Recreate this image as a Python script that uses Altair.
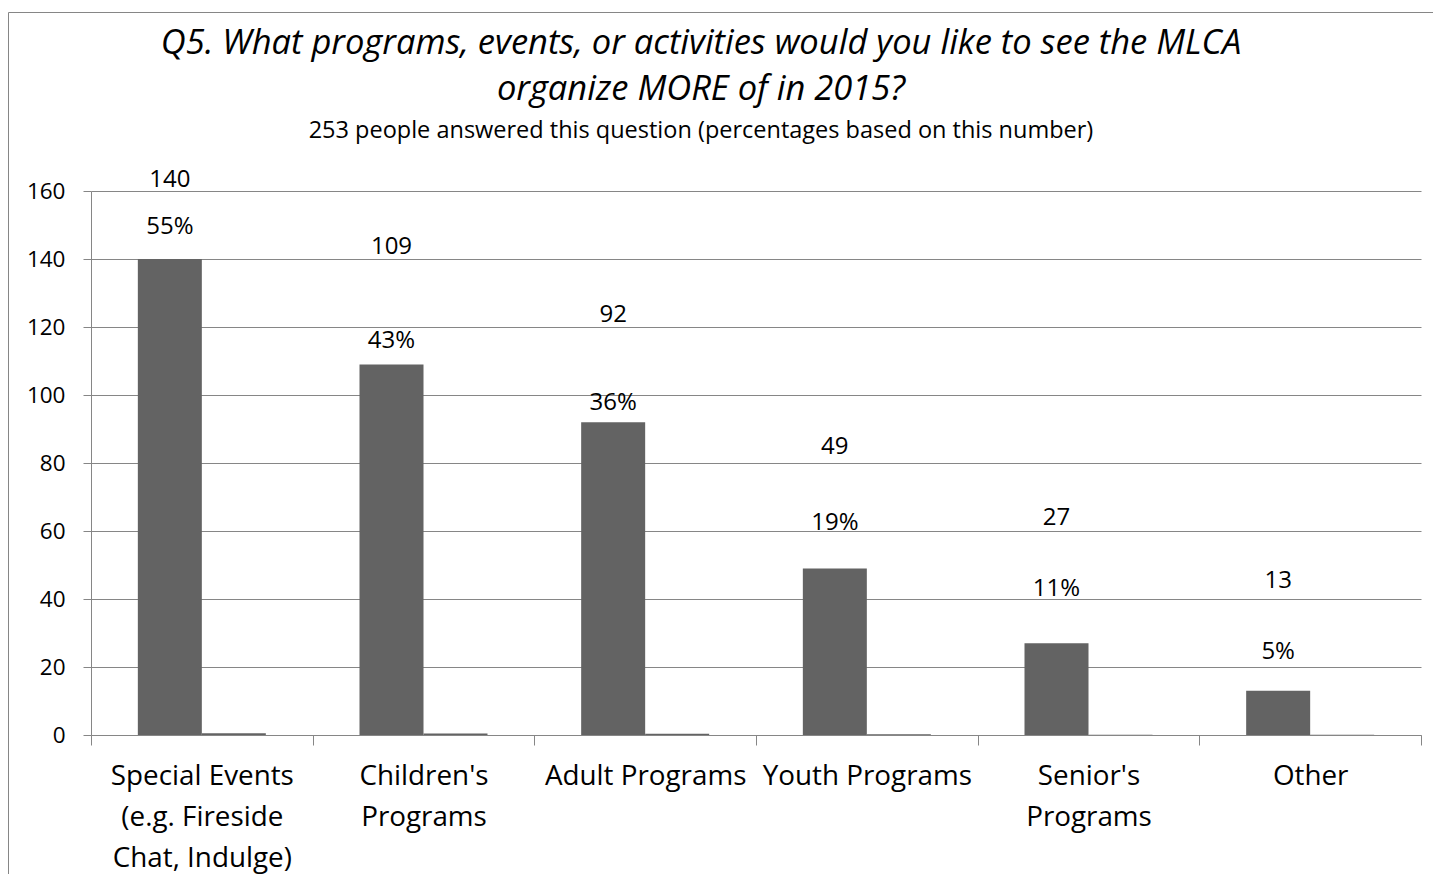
import altair as alt
import pandas as pd

# ---- data ----
categories = [
    "Special Events\n(e.g. Fireside\nChat, Indulge)",
    "Children's\nPrograms",
    "Adult Programs",
    "Youth Programs",
    "Senior's\nPrograms",
    "Other",
]
counts = [140, 109, 92, 49, 27, 13]
# percentage series, plotted on the count axis in the source (hence tiny bars)
percents = [0.55, 0.43, 0.36, 0.19, 0.11, 0.05]
percent_labels = ["55%", "43%", "36%", "19%", "11%", "5%"]
# heights (in axis units) at which the data labels sit in the reference
count_label_height = [163.1, 143.5, 123.5, 84.7, 63.8, 45.3]
percent_label_height = [149.4, 115.9, 97.6, 62.4, 42.8, 24.3]
y_ticks = [0, 20, 40, 60, 80, 100, 120, 140, 160]

title_lines = [
    "Q5. What programs, events, or activities would you like to see the MLCA",
    "organize MORE of in 2015?",
]
subtitle = "253 people answered this question (percentages based on this number)"

FONT = "Open Sans"
GRID = "#868686"
BAR = "#636363"

bars_df = pd.DataFrame(
    {
        "category": categories * 2,
        "series": ["count"] * len(categories) + ["pct"] * len(categories),
        "value": counts + percents,
    }
)
labels_df = pd.DataFrame(
    {
        "category": categories,
        "series": ["count"] * len(categories),
        "count_text": [str(c) for c in counts],
        "pct_text": percent_labels,
        "count_h": count_label_height,
        "pct_h": percent_label_height,
    }
)

x_scale = alt.Scale(paddingInner=0, paddingOuter=0)
xo_scale = alt.Scale(domain=["count", "pct"], paddingInner=0, paddingOuter=0.7318)
y_scale = alt.Scale(domain=[0, 160], nice=False)

x_axis = alt.Axis(
    title=None,
    labelAngle=0,
    labelExpr="split(datum.label, '\\n')",
    labelFont=FONT,
    labelFontSize=27.8,
    labelLineHeight=41,
    labelPadding=17,
    labelColor="black",
    labelBaseline="top",
    tickSize=10,
    tickBand="extent",
    tickColor=GRID,
    domainColor=GRID,
    grid=False,
    labelLimit=400,
)
y_axis = alt.Axis(
    title=None,
    values=y_ticks,
    labelFont=FONT,
    labelFontSize=22.5,
    labelPadding=18,
    labelColor="black",
    tickSize=8,
    tickColor=GRID,
    domainColor=GRID,
    gridColor=GRID,
)

border = (
    alt.Chart(pd.DataFrame({"k": [0]}))
    .mark_rect(fillOpacity=0, stroke=GRID, strokeWidth=1)
    .encode(
        x=alt.value(-82.5),
        x2=alt.value(1600),
        y=alt.value(-178.5),
        y2=alt.value(1200),
    )
)

bars = (
    alt.Chart(bars_df)
    .mark_bar(color=BAR)
    .encode(
        x=alt.X("category:N", sort=categories, scale=x_scale, axis=x_axis),
        xOffset=alt.XOffset("series:N", scale=xo_scale),
        y=alt.Y("value:Q", scale=y_scale, axis=y_axis),
    )
)

count_text = (
    alt.Chart(labels_df)
    .mark_text(font=FONT, fontSize=24, color="black", baseline="middle", align="center")
    .encode(
        x=alt.X("category:N", sort=categories, scale=x_scale),
        xOffset=alt.XOffset("series:N", scale=xo_scale),
        y=alt.Y("count_h:Q", scale=y_scale),
        text="count_text:N",
    )
)

pct_text = (
    alt.Chart(labels_df)
    .mark_text(font=FONT, fontSize=24, color="black", baseline="middle", align="center")
    .encode(
        x=alt.X("category:N", sort=categories, scale=x_scale),
        xOffset=alt.XOffset("series:N", scale=xo_scale),
        y=alt.Y("pct_h:Q", scale=y_scale),
        text="pct_text:N",
    )
)

chart = (
    alt.layer(border, bars, count_text, pct_text)
    .properties(
        width=1330,
        height=544,
        autosize=alt.AutoSizeParams(type="none"),
        padding={"left": 83, "top": 183, "right": 12, "bottom": 139},
        title=alt.TitleParams(
            text=title_lines,
            subtitle=subtitle,
            font=FONT,
            fontStyle="italic",
            fontWeight="normal",
            fontSize=34.5,
            lineHeight=46,
            color="black",
            subtitleFont=FONT,
            subtitleFontSize=23.5,
            subtitleColor="black",
            subtitlePadding=11,
            anchor="middle",
            frame="group",
            offset=-131,
            dx=-55,
        ),
    )
    .configure_view(stroke=None)
    .configure_axisY(title=None)
)

chart.save("out.html", embed_options={"renderer": "svg", "actions": False})
